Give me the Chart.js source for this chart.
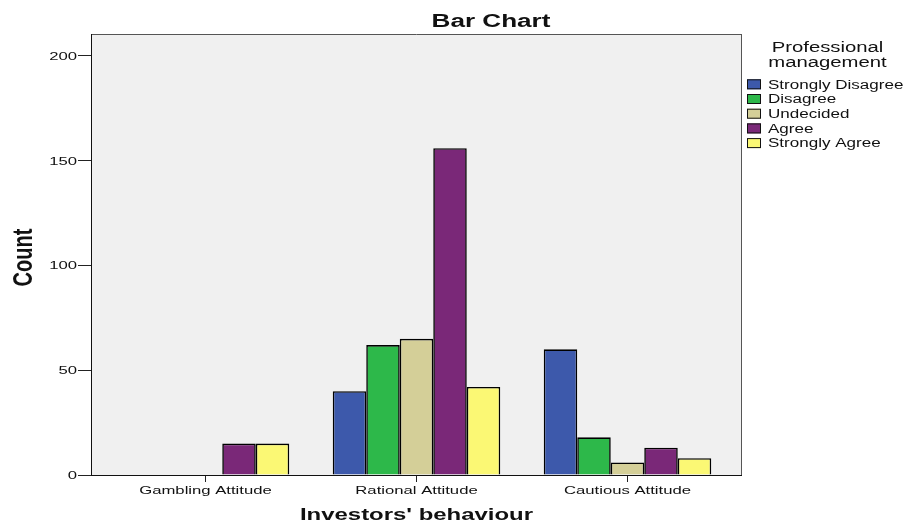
<!DOCTYPE html>
<html>
<head>
<meta charset="utf-8">
<script src="https://cdn.jsdelivr.net/npm/chart.js@4.4.1/dist/chart.umd.min.js"></script>
<style>
  html, body { margin: 0; padding: 0; background: #ffffff; }
  #wrap { position: relative; width: 906px; height: 522px; }
</style>
</head>
<body>
<div id="wrap"><canvas id="c" width="906" height="522"></canvas></div>
<script>
// ---- data ----
const categories = ['Gambling Attitude', 'Rational Attitude', 'Cautious Attitude'];
const seriesNames = ['Strongly Disagree', 'Disagree', 'Undecided', 'Agree', 'Strongly Agree'];
const stronglyDisagree = [0, 40, 60];
const disagree = [0, 62, 18];
const undecided = [0, 65, 6];
const agree = [15, 156, 13];
const stronglyAgree = [15, 42, 8];
const yTickStep = 50;
const yMax = 210.5;
const chartTitle = 'Bar Chart';
const xTitle = "Investors' behaviour";
const yTitle = 'Count';
const legendTitle = ['Professional', 'management'];

const seriesValues = [stronglyDisagree, disagree, undecided, agree, stronglyAgree];
const seriesColors = ['#3d59ab', '#2db84a', '#d4cf98', '#7a2878', '#fbf874'];

const SX = 1.45; // horizontal stretch of the original text
function sText(ctx, text, x, y, align, font, color, sx) {
  ctx.save();
  ctx.font = font;
  ctx.fillStyle = color;
  ctx.textBaseline = 'alphabetic';
  ctx.textAlign = 'left';
  const w = ctx.measureText(text).width * sx;
  const left = align === 'center' ? x - w / 2 : (align === 'right' ? x - w : x);
  ctx.translate(left, y);
  ctx.scale(sx, 1);
  ctx.fillText(text, 0, 0);
  ctx.restore();
}

const FRAME = { left: 91, top: 34, right: 742, bottom: 475 };

const decor = {
  id: 'decor',
  beforeDatasetsDraw(chart) {
    const ctx = chart.ctx;
    ctx.save();
    ctx.fillStyle = '#f0f0f0';
    ctx.fillRect(FRAME.left, FRAME.top, FRAME.right - FRAME.left, FRAME.bottom - FRAME.top);
    ctx.restore();
  },
  afterDatasetsDraw(chart) {
    const ctx = chart.ctx;
    ctx.save();
    ctx.lineWidth = 1;
    ctx.strokeStyle = '#555555';
    ctx.beginPath();
    ctx.moveTo(FRAME.left, FRAME.top + 0.5); ctx.lineTo(FRAME.right, FRAME.top + 0.5);
    ctx.moveTo(FRAME.right - 0.5, FRAME.top); ctx.lineTo(FRAME.right - 0.5, FRAME.bottom);
    ctx.stroke();
    ctx.strokeStyle = '#111111';
    ctx.beginPath();
    ctx.moveTo(FRAME.left + 0.5, FRAME.top); ctx.lineTo(FRAME.left + 0.5, FRAME.bottom + 1);
    ctx.moveTo(FRAME.left, FRAME.bottom + 0.5); ctx.lineTo(FRAME.right, FRAME.bottom + 0.5);
    ctx.stroke();
    ctx.restore();
  },
  afterDraw(chart) {
    const ctx = chart.ctx;
    const ys = chart.scales.y, xs = chart.scales.x;
    const tickFont = '11.5px "Liberation Sans", Arial, sans-serif';
    // y tick labels
    ys.ticks.forEach((t, i) => {
      const py = ys.getPixelForTick(i);
      if (py < FRAME.top - 2) return;
      sText(ctx, String(t.label), 77, py + 4, 'right', tickFont, '#111', SX);
    });
    // x tick labels
    xs.ticks.forEach((t, i) => {
      const px = xs.getPixelForTick(i);
      sText(ctx, String(categories[t.value] ?? t.label), px, 494, 'center', tickFont, '#111', SX);
    });
    // chart title
    sText(ctx, chartTitle, 491, 27, 'center', 'bold 18px "Liberation Sans", Arial, sans-serif', '#111', SX);
    // x title
    sText(ctx, xTitle, (FRAME.left + FRAME.right) / 2, 520, 'center', 'bold 16.5px "Liberation Sans", Arial, sans-serif', '#111', SX);
    // y title (rotated)
    ctx.save();
    ctx.translate(32, (FRAME.top + FRAME.bottom) / 2 + 3);
    ctx.scale(1.4, 1);
    ctx.rotate(-Math.PI / 2);
    ctx.font = 'bold 20px "Liberation Sans", Arial, sans-serif';
    ctx.fillStyle = '#111';
    ctx.textAlign = 'center';
    ctx.textBaseline = 'alphabetic';
    ctx.fillText(yTitle, 0, 0);
    ctx.restore();
    // legend
    const lx = 827.5;
    legendTitle.forEach((line, i) => {
      sText(ctx, line, lx, 52 + i * 15, 'center', '14px "Liberation Sans", Arial, sans-serif', '#111', SX);
    });
    chart.data.datasets.forEach((ds, i) => {
      const cy = 84.3 + i * 14.7;
      ctx.save();
      ctx.fillStyle = ds.backgroundColor;
      ctx.fillRect(747, cy - 5, 14, 10);
      ctx.strokeStyle = '#111';
      ctx.lineWidth = 1;
      ctx.strokeRect(747.5, cy - 4.5, 13, 9);
      ctx.restore();
      sText(ctx, ds.label, 768, cy + 4.3, 'left', '12px "Liberation Sans", Arial, sans-serif', '#111', 1.42);
    });
  }
};

new Chart(document.getElementById('c'), {
  type: 'bar',
  data: {
    labels: categories,
    datasets: seriesNames.map((name, i) => ({
      label: name,
      data: seriesValues[i],
      backgroundColor: seriesColors[i],
      borderColor: '#000000',
      borderWidth: 1.6,
      categoryPercentage: 0.794,
      barPercentage: 1.0
    }))
  },
  options: {
    responsive: false,
    animation: false,
    events: [],
    layout: { padding: { top: 34, right: 173, left: 0, bottom: 0 } },
    plugins: {
      legend: { display: false },
      title: { display: false },
      tooltip: { enabled: false }
    },
    scales: {
      x: {
        offset: true,
        border: { display: false },
        grid: { display: true, offset: false, drawOnChartArea: false, drawTicks: true, tickLength: 7, color: '#222', lineWidth: 1 },
        ticks: { display: false },
        afterFit(scale) { scale.height = 47; }
      },
      y: {
        min: 0,
        max: yMax,
        border: { display: false },
        grid: { display: true, drawOnChartArea: false, drawTicks: true, tickLength: 22, color: '#222', lineWidth: 1 },
        ticks: { display: false, stepSize: yTickStep, includeBounds: false },
        afterBuildTicks(scale) { scale.ticks = scale.ticks.filter(t => t.value <= 200 && t.value % yTickStep === 0); },
        afterFit(scale) { scale.width = 100; }
      }
    }
  },
  plugins: [decor]
});
</script>
</body>
</html>
